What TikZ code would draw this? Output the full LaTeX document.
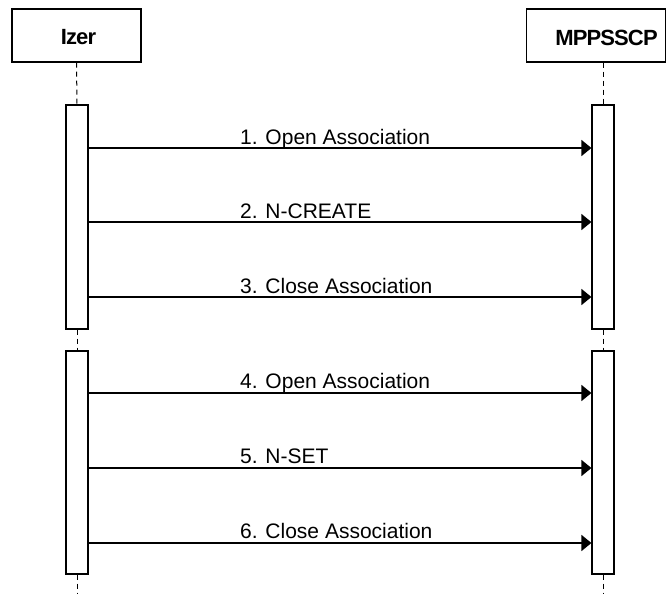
\documentclass[tikz,border=0pt]{standalone}
\usepackage{fontspec}
\setmainfont{Liberation Sans}
\newfontfamily\titlefont[LetterSpace=-4]{Liberation Sans}
\usetikzlibrary{arrows.meta}
\begin{document}
\begin{tikzpicture}[x=1pt,y=-1pt,
  actor/.style={draw,line width=1.3pt,inner sep=0pt},
  actortext/.style={inner sep=0pt,font=\titlefont\fontsize{22}{26}\selectfont\bfseries},
  bar/.style={draw,line width=1.2pt,fill=white,minimum width=22pt,inner sep=0pt},
  life/.style={line width=1pt,dash pattern=on 5pt off 4pt},
  msg/.style={line width=1.8pt,-{Triangle[length=10pt,width=16pt]}},
  lbl/.style={anchor=base west,inner sep=0pt,font=\fontsize{21}{25}\selectfont}]
\useasboundingbox (0,0) rectangle (667,594);
% actor boxes
\node[actor,minimum width=129pt,minimum height=53pt] (A) at (76.5,35.5) {};
\node[actortext] (At) at (78.5,37.5) {Izer};
\node[actor,minimum width=139pt,minimum height=53pt] (B) at (596.3,35.5) {};
\node[actortext] (Bt) at (606.5,37.5) {MPPSSCP};
% activation bars
\node[bar,minimum height=224pt] (L1) at (77,217) {};
\node[bar,minimum height=223pt] (L2) at (77,462.5) {};
\node[bar,minimum height=224pt] (R1) at (603,217) {};
\node[bar,minimum height=223pt] (R2) at (603,462.5) {};
\coordinate (Lend) at (77,594);
\coordinate (Rend) at (603,594);
% lifelines
\draw[life] (A.south) -- (L1.north);
\draw[life] (L1.south) -- (L2.north);
\draw[life] (L2.south) -- (Lend);
\draw[life] (B.south -| R1.north) -- (R1.north);
\draw[life] (R1.south) -- (R2.north);
\draw[life] (R2.south) -- (Rend);
% messages
\draw[msg] (L1.east |- 0,148) -- (R1.west |- 0,148);
\draw[msg] (L1.east |- 0,222) -- (R1.west |- 0,222);
\draw[msg] (L1.east |- 0,297) -- (R1.west |- 0,297);
\draw[msg] (L2.east |- 0,393) -- (R2.west |- 0,393);
\draw[msg] (L2.east |- 0,468) -- (R2.west |- 0,468);
\draw[msg] (L2.east |- 0,543) -- (R2.west |- 0,543);
% labels
\node[lbl] (m1) at (240,144) {1. Open Association};
\node[lbl] (m2) at (240,218) {2. N-CREATE};
\node[lbl] (m3) at (240,293) {3. Close Association};
\node[lbl] (m4) at (240,388) {4. Open Association};
\node[lbl] (m5) at (240,463) {5. N-SET};
\node[lbl] (m6) at (240,538) {6. Close Association};
\end{tikzpicture}
\end{document}
